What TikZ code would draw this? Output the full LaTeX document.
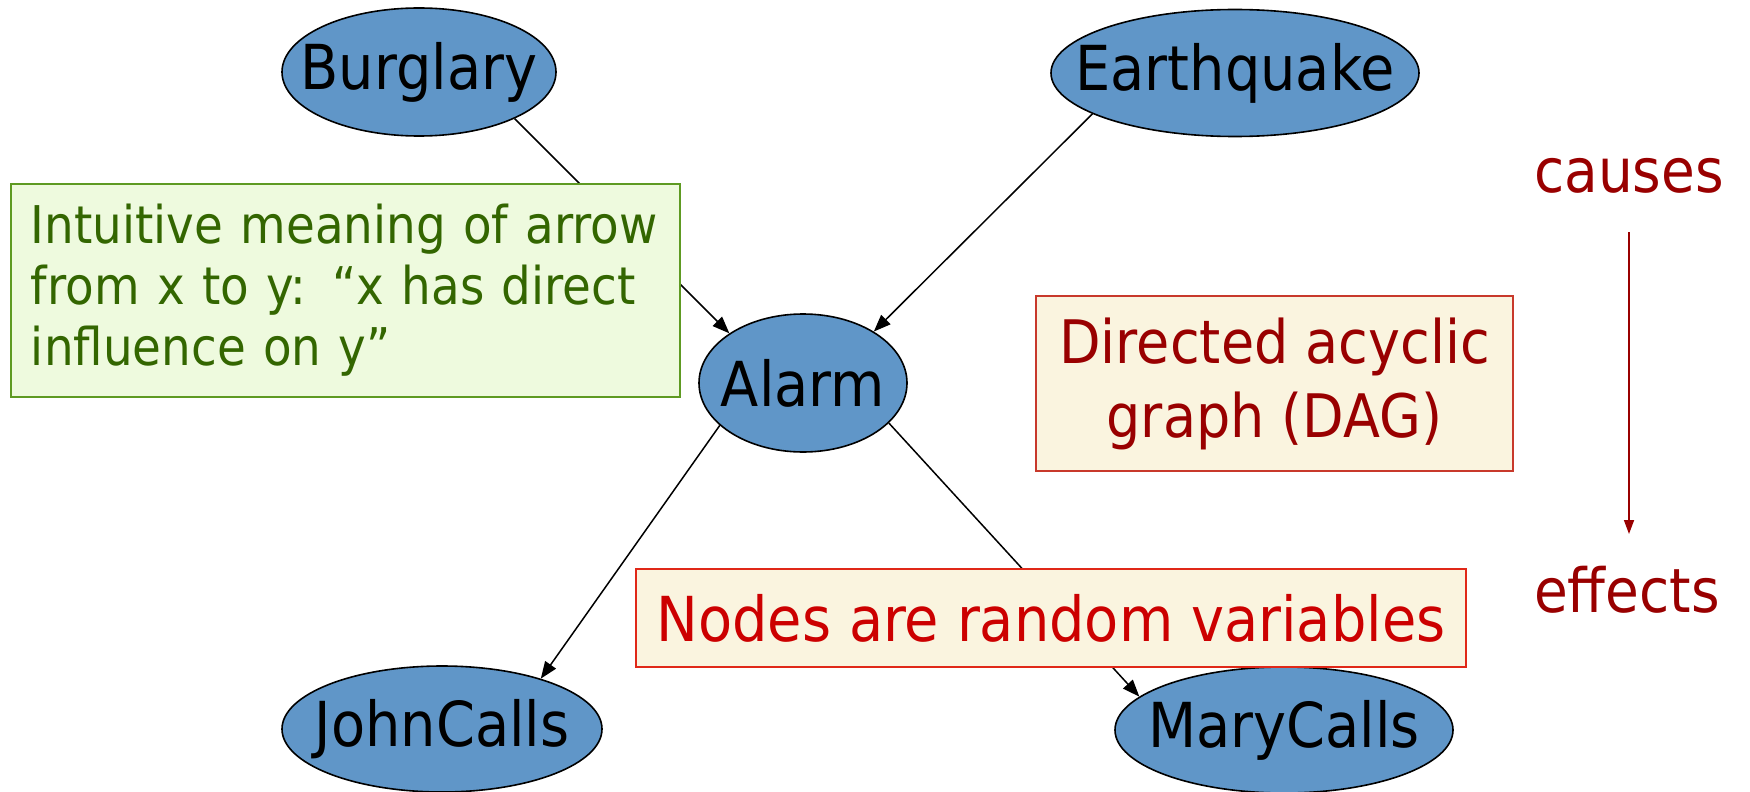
\documentclass[tikz,border=0pt]{standalone}
\usepackage{fontspec}
\setmainfont{DejaVu Sans}[FakeStretch=0.9]
\usetikzlibrary{shapes.geometric,arrows.meta}
\definecolor{nodeblue}{HTML}{6096C8}
\definecolor{notegreenfill}{HTML}{EEFADE}
\definecolor{notegreenline}{HTML}{5E9A22}
\definecolor{notegreentext}{HTML}{336600}
\definecolor{creamfill}{HTML}{FAF4DF}
\definecolor{darkred}{HTML}{990000}
\definecolor{dagline}{HTML}{C8392B}
\definecolor{brightred}{HTML}{E02818}
\definecolor{redtext}{HTML}{CC0000}
\tikzset{
  var/.style={ellipse, draw=black, line width=0.8pt, fill=nodeblue, inner sep=0pt},
  varlabel/.style={inner sep=0pt, font=\fontsize{31}{36}\selectfont, text=black},
  edge/.style={line width=0.75pt, -{Triangle[length=8.5pt,width=6.5pt]}},
  note/.style={rectangle, line width=0.8pt, inner sep=0pt},
  tag/.style={font=\fontsize{30.5}{36}\selectfont, text=darkred, inner sep=0pt}
}
\begin{document}
\begin{tikzpicture}[x=0.5pt,y=-0.5pt]
\useasboundingbox (0,0) rectangle (1750,792);
% variables: ellipse outlines, then their names
\node[var, minimum width=137pt, minimum height=64pt] (burg) at (419,72) {};
\node[var, minimum width=184pt, minimum height=63.5pt] (quake) at (1235,73) {};
\node[var, minimum width=104pt, minimum height=69pt] (alarm) at (803,383) {};
\node[var, minimum width=160pt, minimum height=63pt] (john) at (442,729) {};
\node[var, minimum width=169pt, minimum height=63pt] (mary) at (1284,730) {};
\node[varlabel] (burgT) at (burg) {Burglary};
\node[varlabel] (quakeT) at (quake) {Earthquake};
\node[varlabel] (alarmT) at (alarm) {Alarm};
\node[varlabel] (johnT) at (john) {JohnCalls};
\node[varlabel] (maryT) at (mary) {MaryCalls};
% arcs
\draw[edge] (burg.-26) -- (alarm.146);
\draw[edge] (quake.-164) -- (alarm.36);
\draw[edge] (alarm.-153) -- (john.27);
\draw[edge] (alarm.-25) -- (mary.167);
% annotation boxes
\node[note, draw=notegreenline, fill=notegreenfill, text=notegreentext,
  inner xsep=10pt, text width=314.5pt, minimum height=106.5pt, align=left,
  font=\fontsize{26}{30.5}\selectfont] (meaning) at (345.5,290.5)
  {Intuitive meaning of arrow from x to y: “x has direct influence on y”};
\node[note, draw=dagline, fill=creamfill, text=darkred, minimum width=238.5pt,
  minimum height=87.5pt, align=center, font=\fontsize{30}{37}\selectfont] (dag)
  at (1274.5,383.5) {Directed acyclic\\graph (DAG)};
\node[note, draw=brightred, fill=creamfill, text=redtext, minimum width=415pt,
  minimum height=49pt, font=\fontsize{31}{36}\selectfont] (rv) at (1051,618)
  {Nodes are random variables};
% causal direction
\node[tag] (causes) at (1629,176) {causes};
\node[tag] (effects) at (1627,590) {effects};
\coordinate (ctop) at (1629,232);
\coordinate (cbot) at (1629,534);
\draw[darkred, line width=0.8pt, -{Triangle[length=7pt,width=5pt]}] (ctop) -- (cbot);
\end{tikzpicture}
\end{document}
